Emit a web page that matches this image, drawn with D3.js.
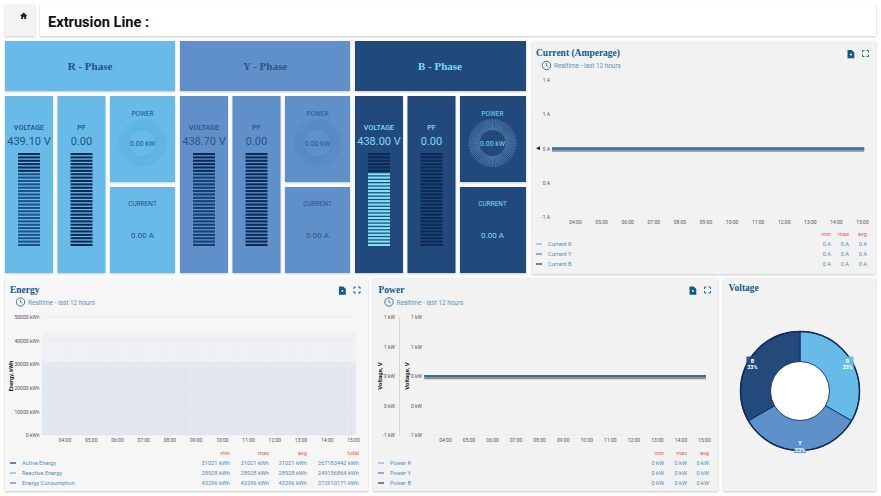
<!DOCTYPE html>
<html>
<head>
<meta charset="utf-8">
<script src="https://cdn.jsdelivr.net/npm/d3@7"></script>
<style>
  html, body { margin: 0; padding: 0; background: #fff; overflow: hidden; }
  text { font-family: Roboto, sans-serif; }
  .serif { font-family: "Liberation Serif", serif; font-weight: 700; }
  .axis text { font-size: 5px; fill: #555; }
  .axis path, .axis line { display: none; }
</style>
</head>
<body>
<div id="chart"></div>
<script>
// dashboard values
const phaseNames = ['R - Phase', 'Y - Phase', 'B - Phase'];
const voltages = [439.10, 438.70, 438.00];
const powerFactors = [0, 0, 0];
const powers = [0, 0, 0];
const currents = [0, 0, 0];
const voltageMax = 560;

const hourTicks = ['04:00', '05:00', '06:00', '07:00', '08:00', '09:00', '10:00', '11:00', '12:00', '13:00', '14:00', '15:00'];
const lineTimes = ['03:07', '04:00', '05:00', '06:00', '07:00', '08:00', '09:00', '10:00', '11:00', '12:00', '13:00', '14:00', '15:00', '15:05'];
const flatValues = [0, 0, 0, 0, 0, 0, 0, 0, 0, 0, 0, 0, 0, 0];

const currentNames = ['Current R', 'Current Y', 'Current B'];
const currentStats = [['0 A', '0 A', '0 A'], ['0 A', '0 A', '0 A'], ['0 A', '0 A', '0 A']];
const powerNames = ['Power R', 'Power Y', 'Power B'];
const powerStats = [['0 kW', '0 kW', '0 kW'], ['0 kW', '0 kW', '0 kW'], ['0 kW', '0 kW', '0 kW']];
const energyNames = ['Active Energy', 'Reactive Energy', 'Energy Consumption'];
const energyStats = [
  ['31021 kWh', '31021 kWh', '31021 kWh', '267183442 kWh'],
  ['28928 kWh', '28928 kWh', '28928 kWh', '249156864 kWh'],
  ['43296 kWh', '43296 kWh', '43296 kWh', '372910171 kWh']
];
const energyTimes = ['03:10', '03:30', '04:00', '04:20', '04:50', '05:10', '05:30', '06:00', '06:20', '06:50', '07:10', '07:30', '08:00', '08:20', '08:50', '09:10', '09:30', '10:00', '10:20', '10:50', '11:10', '11:30', '12:00', '12:20', '12:50', '13:10', '13:30', '14:00', '14:20', '14:50', '15:10'];
const energyActive = 31021;
const energyReactive = 28928;
const energyConsumption = 43296;

const donutLabels = ['R', 'Y', 'B'];
const donutValues = [33.3, 33.3, 33.3];

const phaseFill = ['#67bbe9', '#5e90c9', '#244a7c'];
const phaseText = ['#1f5384', '#2b5688', '#7fdcf5'];
const phaseLit = ['#1b5288', '#163f76', '#82e2f6'];
const phaseRing = ['#58a9da', '#5384bc', '#5f8fb8'];
const seriesColor = ['#65bbe8', '#4f82bd', '#173a68'];
const titleColor = '#0f5c88';
const subColor = '#5b93b2';
const statColor = '#4f8fb3';
const headColor = '#e2633a';

const width = 881, height = 496;
const parseTime = d3.timeParse('%H:%M');

const svg = d3.select('#chart').append('svg')
  .attr('width', width).attr('height', height)
  .style('display', 'block');

const shadow = svg.append('defs').append('filter').attr('id', 'shadow')
  .attr('x', '-5%').attr('y', '-5%').attr('width', '110%').attr('height', '110%');
shadow.append('feDropShadow').attr('dx', 0).attr('dy', 1)
  .attr('stdDeviation', 0.9).attr('flood-color', '#000').attr('flood-opacity', 0.22);

function card(x, y, w, h, fill) {
  svg.append('rect').attr('x', x).attr('y', y).attr('width', w).attr('height', h)
    .attr('fill', fill).attr('filter', 'url(#shadow)');
}

function label(x, y, str, size, fill, anchor, cls) {
  return svg.append('text').attr('x', x).attr('y', y).text(str)
    .attr('font-size', size).attr('fill', fill)
    .attr('text-anchor', anchor || 'start').attr('class', cls || null);
}

// top bar
card(5, 4, 30, 32, '#f4f4f4');
card(40, 4, 836, 32, '#fff');
svg.append('path').attr('d', 'M20 16 l3.7 -3.4 l3.7 3.4 h-1.2 v3 h-1.9 v-2 h-1.2 v2 h-1.9 v-3 z').attr('fill', '#222');
label(48, 26.5, 'Extrusion Line :', 14.6, '#111').attr('font-weight', 700);

// stripe gauge
function stripeGauge(x, y, w, h, fraction, lit) {
  const stripes = d3.range(28);
  const band = d3.scaleBand().domain(stripes).range([y + h, y]).paddingInner(0.38);
  svg.append('g').selectAll('rect').data(stripes).join('rect')
    .attr('x', x).attr('width', w)
    .attr('y', d => band(d)).attr('height', band.bandwidth())
    .attr('fill', d => (d + 0.5) / stripes.length <= fraction ? lit : '#0b2a56');
}

function polarGauge(cx, cy, color) {
  const ticks = d3.range(90);
  const angle = d3.scaleLinear().domain([0, 90]).range([0, 2 * Math.PI]);
  svg.append('g').selectAll('line').data(ticks).join('line')
    .attr('x1', d => cx + 13 * Math.sin(angle(d)))
    .attr('y1', d => cy - 13 * Math.cos(angle(d)))
    .attr('x2', d => cx + 24 * Math.sin(angle(d)))
    .attr('y2', d => cy - 24 * Math.cos(angle(d)))
    .attr('stroke', color).attr('stroke-width', 0.6);
}

const voltageScale = d3.scaleLinear().domain([0, voltageMax]).range([0, 1]);

phaseNames.forEach((name, i) => {
  const x0 = 5 + i * 175;
  const fill = phaseFill[i], txt = phaseText[i];
  card(x0, 41, i === 2 ? 171 : 170, 50, fill);
  label(x0 + 85, 70, name, 11, txt, 'middle', 'serif');

  // voltage
  card(x0, 96, 48, 177, fill);
  label(x0 + 24, 130, 'VOLTAGE', 7.2, txt, 'middle').attr('font-weight', 500);
  label(x0 + 24, 145, voltages[i].toFixed(2) + ' V', 11, txt, 'middle');
  stripeGauge(x0 + 13, 153, 22, 93, voltageScale(voltages[i]), phaseLit[i]);

  // power factor
  card(x0 + 52.5, 96, 48, 177, fill);
  label(x0 + 76.5, 130, 'PF', 7.2, txt, 'middle').attr('font-weight', 500);
  label(x0 + 76.5, 145, powerFactors[i].toFixed(2), 11, txt, 'middle');
  stripeGauge(x0 + 65.5, 153, 22, 93, powerFactors[i], phaseLit[i]);

  // power
  card(x0 + 105, 96, i === 2 ? 66 : 65, 86, fill);
  label(x0 + 137.5, 115.5, 'POWER', 6.5, txt, 'middle');
  polarGauge(x0 + 137.5, 143, phaseRing[i]);
  label(x0 + 137.5, 145.5, powers[i].toFixed(2) + ' kW', 7, txt, 'middle');

  // current
  card(x0 + 105, 187, i === 2 ? 66 : 65, 86, fill);
  label(x0 + 137.5, 206, 'CURRENT', 6.5, txt, 'middle');
  label(x0 + 137.5, 237.5, currents[i].toFixed(2) + ' A', 8, txt, 'middle');
});

// panel header: title, realtime line, icons
function panelHead(x, yTitle, title, iconX) {
  label(x, yTitle, title, 9.5, titleColor, 'start', 'serif');
  if (iconX === null) return;
  svg.append('circle').attr('cx', x + 10.5).attr('cy', yTitle + 9.5).attr('r', 4.2)
    .attr('fill', 'none').attr('stroke', titleColor).attr('stroke-width', 0.8);
  svg.append('path').attr('d', `M${x + 10.5} ${yTitle + 7} v2.6 l1.8 1`)
    .attr('fill', 'none').attr('stroke', titleColor).attr('stroke-width', 0.7);
  label(x + 18, yTitle + 12, 'Realtime - last 12 hours', 6.4, subColor);
  svg.append('path').attr('d', `M${iconX} ${yTitle - 6} h4.2 l2.6 2.6 v5.6 h-6.8 z`).attr('fill', titleColor);
  svg.append('circle').attr('cx', iconX + 3.4).attr('cy', yTitle - 1.5).attr('r', 1).attr('fill', '#f2f2f2');
  const e = iconX + 15;
  svg.append('path')
    .attr('d', `M${e} ${yTitle - 3.5} v-2 h2 M${e + 4} ${yTitle - 5.5} h2 v2 M${e} ${yTitle - 1.5} v2 h2 M${e + 6} ${yTitle - 1.5} v2 h-2`)
    .attr('fill', 'none').attr('stroke', titleColor).attr('stroke-width', 0.9);
}

function yAxis(y, xRight, fmt, ticks) {
  svg.append('g').attr('class', 'axis').attr('transform', `translate(${xRight},0)`)
    .call(d3.axisLeft(y).tickValues(ticks).tickFormat(fmt).tickSize(0).tickPadding(0));
}

function xAxis(x, yPos) {
  svg.append('g').attr('class', 'axis').attr('transform', `translate(0,${yPos})`)
    .call(d3.axisBottom(x).tickValues(hourTicks.map(parseTime)).tickFormat(d3.timeFormat('%H:%M')).tickSize(0).tickPadding(0));
}

function grid(y, ticks, x1, x2) {
  svg.append('g').selectAll('line').data(ticks).join('line')
    .attr('x1', x1).attr('x2', x2)
    .attr('y1', d => y(d)).attr('y2', d => y(d))
    .attr('stroke', '#e9e9e9').attr('stroke-width', 0.6);
}

function legend(xSwatch, yHead, names, colors, heads, stats, colX) {
  heads.forEach((h, c) => label(colX[c], yHead + 2, h, 5.7, headColor, 'end'));
  names.forEach((n, r) => {
    const yr = yHead + 10 * (r + 1);
    svg.append('line').attr('x1', xSwatch).attr('x2', xSwatch + 6)
      .attr('y1', yr).attr('y2', yr).attr('stroke', colors[r]).attr('stroke-width', 1.2);
    label(xSwatch + 12, yr + 2, n, 5.7, statColor);
    stats[r].forEach((s, c) => label(colX[c], yr + 2, s, 5.7, statColor, 'end'));
  });
}

function flatLines(x, y) {
  const line = d3.line().x(d => x(parseTime(d))).y((d, i) => y(flatValues[i]));
  svg.append('path').datum(lineTimes).attr('d', line)
    .attr('transform', 'translate(0,2)')
    .attr('fill', 'none').attr('stroke', '#8f8f8f').attr('stroke-width', 2.4);
  seriesColor.forEach(c => {
    svg.append('path').datum(lineTimes).attr('d', line)
      .attr('fill', 'none').attr('stroke', c === seriesColor[2] ? '#3f6a9c' : c).attr('stroke-width', 2);
  });
}

const unitTicks = [1, 0.5, 0, -0.5, -1];
const unitFormat = unit => d => (Math.round(d) + 0) + ' ' + unit;

// current panel
card(532, 41, 344, 233, '#f2f2f2');
panelHead(536, 56, 'Current (Amperage)', 847.5);
const xCurrent = d3.scaleTime().domain([parseTime('04:00'), parseTime('15:00')]).range([575, 862]);
const yCurrent = d3.scaleLinear().domain([-1, 1]).range([217, 80]);
yAxis(yCurrent, 550, unitFormat('A'), unitTicks);
xAxis(xCurrent, 220);
flatLines(xCurrent, yCurrent);
svg.append('path').attr('d', `M536 ${yCurrent(0) - 0.2} l4 -2 v4 z`).attr('fill', '#222');
legend(536, 234, currentNames, seriesColor, ['min', 'max', 'avg'], currentStats, [831, 849, 867]);

// energy panel
card(5, 278, 363, 213, '#f6f6f6');
panelHead(10, 292.5, 'Energy', 339);
const xEnergy = d3.scaleTime().domain([parseTime('04:00'), parseTime('15:00')]).range([64.5, 353]);
const yEnergy = d3.scaleLinear().domain([0, 50000]).range([435, 317]);
const energyTicks = [50000, 40000, 30000, 20000, 10000, 0];
grid(yEnergy, energyTicks, 42, 353);
const barLeft = d3.scaleTime().domain([parseTime('03:10'), parseTime('15:10')]).range([42, 356]);
[energyConsumption, energyActive, energyReactive].forEach(v => {
  svg.append('g').selectAll('rect').data(energyTimes.slice(0, -1)).join('rect')
    .attr('x', d => barLeft(parseTime(d)))
    .attr('width', (d, i) => barLeft(parseTime(energyTimes[i + 1])) - barLeft(parseTime(d)) - 0.3)
    .attr('y', yEnergy(v)).attr('height', yEnergy(0) - yEnergy(v))
    .attr('fill', '#c5d5e8').attr('opacity', 0.16);
});
yAxis(yEnergy, 39.5, d => d + ' kWh', energyTicks);
xAxis(xEnergy, 438);
svg.append('text').attr('transform', `translate(13.3,376) rotate(-90)`)
  .attr('text-anchor', 'middle').attr('font-size', 5.6).attr('font-weight', 700).attr('fill', '#222').text('Energy, kWh');
legend(10, 453, energyNames, ['#173a68', '#65bbe8', '#4f82bd'], ['min', 'max', 'avg', 'total'], energyStats, [230, 269, 307, 359]);

// power panel
card(373, 278, 345, 213, '#f2f2f2');
panelHead(378.5, 292.5, 'Power', 689.5);
const xPower = d3.scaleTime().domain([parseTime('04:00'), parseTime('15:00')]).range([445, 704]);
const yPower = d3.scaleLinear().domain([-1, 1]).range([435, 317]);
grid(yPower, unitTicks, 424, 704);
yAxis(yPower, 395, unitFormat('kW'), unitTicks);
yAxis(yPower, 422, unitFormat('kW'), unitTicks);
svg.append('line').attr('x1', 399.5).attr('x2', 399.5).attr('y1', 317).attr('y2', 436)
  .attr('stroke', '#cfcfcf').attr('stroke-width', 0.8);
[381.5, 409].forEach(px => {
  svg.append('text').attr('transform', `translate(${px},376) rotate(-90)`)
    .attr('text-anchor', 'middle').attr('font-size', 6).attr('font-weight', 700).attr('fill', '#222').text('Voltage, V');
});
xAxis(xPower, 438);
flatLines(xPower, yPower);
legend(378, 453, powerNames, seriesColor, ['min', 'max', 'avg'], powerStats, [664, 687, 709]);

// voltage donut
card(723, 278, 153, 213, '#f2f2f2');
panelHead(728.5, 291, 'Voltage', null);
const pie = d3.pie().sort(null)(donutValues);
const arc = d3.arc().innerRadius(29.5).outerRadius(59.5);
const labelArc = d3.arc().innerRadius(55).outerRadius(55);
const donut = svg.append('g').attr('transform', 'translate(800,391)');
donut.append('circle').attr('r', 29.5).attr('fill', '#fff');
donut.selectAll('path').data(pie).join('path')
  .attr('d', arc).attr('fill', (d, i) => phaseFill[i])
  .attr('stroke', '#0b2a5e').attr('stroke-width', 0.9);
donut.append('circle').attr('r', 59.5).attr('fill', 'none')
  .attr('stroke', '#0b2a5e').attr('stroke-width', 1.5);
donut.selectAll('rect').data(pie).join('rect')
  .attr('x', d => labelArc.centroid(d)[0] - 6)
  .attr('y', d => labelArc.centroid(d)[1] - 7)
  .attr('width', 12).attr('height', 14)
  .attr('fill', (d, i) => phaseFill[i]).attr('opacity', 0.9);
donut.selectAll('text.name').data(pie).join('text').attr('class', 'name')
  .attr('x', d => labelArc.centroid(d)[0]).attr('y', d => labelArc.centroid(d)[1] - 1)
  .attr('text-anchor', 'middle').attr('font-size', 5.5).attr('font-weight', 700).attr('fill', '#fff')
  .text((d, i) => donutLabels[i]);
donut.selectAll('text.pct').data(pie).join('text').attr('class', 'pct')
  .attr('x', d => labelArc.centroid(d)[0]).attr('y', d => labelArc.centroid(d)[1] + 5.5)
  .attr('text-anchor', 'middle').attr('font-size', 5.5).attr('font-weight', 700).attr('fill', '#fff')
  .text(d => Math.floor(d.value) + '%');
</script>
</body>
</html>
